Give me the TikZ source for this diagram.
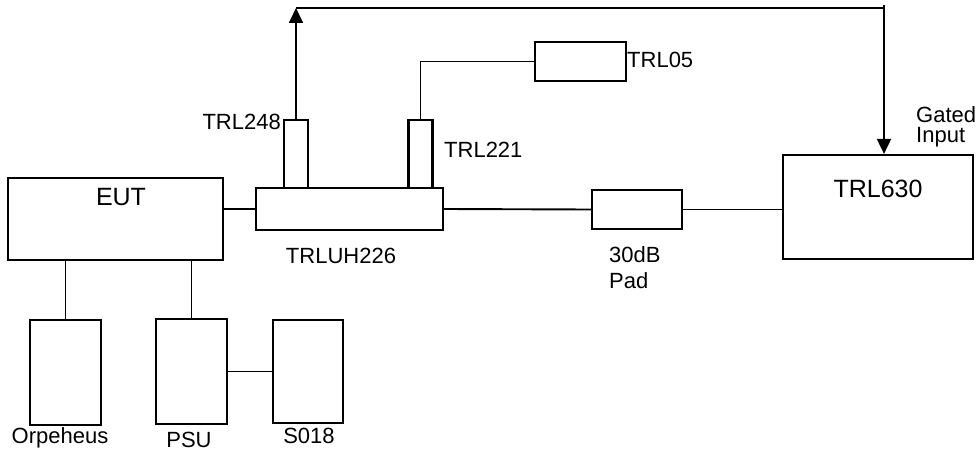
\documentclass[tikz,border=0pt]{standalone}
\usepackage{fontspec}
\setmainfont{Liberation Sans}
\usetikzlibrary{arrows.meta}
\begin{document}
\begin{tikzpicture}[x=1pt,y=-1pt,>={Triangle[length=15pt,width=14pt]},
  box/.style={draw,line width=2.2pt,inner sep=0pt},
  lbl/.style={inner sep=0pt,font=\fontsize{22}{22}\selectfont},
  big/.style={inner sep=0pt,font=\fontsize{25}{25}\selectfont},
  wire/.style={line width=1.9pt}]
\useasboundingbox (0,0) rectangle (979,452);
% boxes
\node[box,minimum width=215pt,minimum height=82pt] (eut) at (115.5,219) {};
\node[box,minimum width=187pt,minimum height=42pt] (uh) at (349.5,209) {};
\node[box,minimum width=24pt,minimum height=68pt] (s248) at (296,154) {};
\node[box,minimum width=24pt,minimum height=68pt] (s221) at (420.5,154) {};
\node[box,minimum width=91pt,minimum height=39pt] (t05) at (580.5,61.5) {};
\node[box,minimum width=90pt,minimum height=39pt] (pad) at (637,209.5) {};
\node[box,minimum width=190pt,minimum height=104pt] (t630) at (878,207) {};
\node[box,minimum width=71pt,minimum height=105pt] (orph) at (65.5,372.5) {};
\node[box,minimum width=71pt,minimum height=105pt] (psu) at (191.5,371.5) {};
\node[box,minimum width=70pt,minimum height=103pt] (s018) at (308,371.5) {};
% labels
\node[big] (leut) at (121,197) {EUT};
\node[big] (l630) at (878,189) {TRL630};
\node[lbl,anchor=east] (l248) at (281,122) {TRL248};
\node[lbl,anchor=west] (l221) at (444,150) {TRL221};
\node[lbl,anchor=west] (l05) at (627,60) {TRL05};
\node[lbl,anchor=west,align=left,font=\fontsize{22}{20}\selectfont] (lgate) at (916,127) {Gated\\Input};
\node[lbl] (luh) at (341,256) {TRLUH226};
\node[lbl,anchor=west,align=left,font=\fontsize{22}{26}\selectfont] (lpad) at (609,268) {30dB\\Pad};
\node[lbl] (lorph) at (60,438) {Orpeheus};
\node[lbl] (lpsu) at (189,440) {PSU};
\node[lbl] (ls018) at (309,436) {S018};
% connectors
\coordinate (topl) at (296,8);
\coordinate (topr) at (884,8);
\coordinate (tick) at (884,5);
\draw[wire] (uh.west) -- (uh.west -| eut.east);
\draw[wire] (uh.east) -- (pad.west);
\draw[wire] (pad.east) -- (pad.east -| t630.west);
\draw[wire,->] (s248.north) -- (topl);
\draw[wire] (topl) -- (topr);
\draw[wire,->] (tick) -- (tick |- t630.north);
\draw[wire] (s221.north) |- (t05.west);
\draw[wire] (orph.north) -- (orph.north |- eut.south);
\draw[wire] (psu.north) -- (psu.north |- eut.south);
\draw[wire] (psu.east) -- (s018.west);
\end{tikzpicture}
\end{document}
